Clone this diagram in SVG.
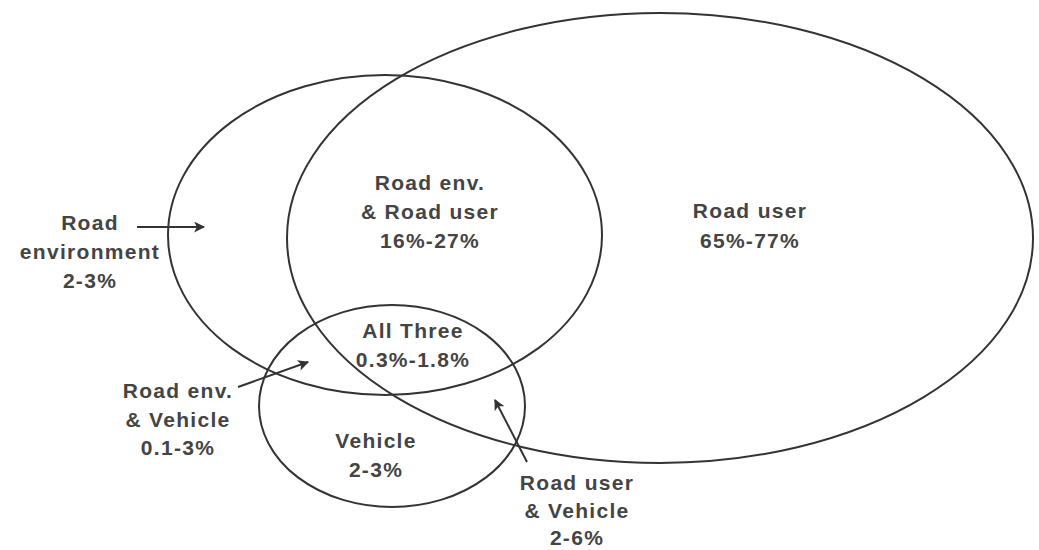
<svg xmlns="http://www.w3.org/2000/svg" width="1039" height="550" viewBox="0 0 1039 550">
<style>
.ring{fill:none;stroke:#333;stroke-width:2}
.lbl{font-family:"Liberation Sans",Arial,sans-serif;font-weight:bold;font-size:21px;fill:#444;text-anchor:middle;letter-spacing:1.3px}
.arr{fill:none;stroke:#333;stroke-width:2;marker-end:url(#ah)}
</style>
<defs>
<marker id="ah" viewBox="0 0 10 10" refX="9" refY="5" markerWidth="13" markerHeight="11" markerUnits="userSpaceOnUse" orient="auto">
<path d="M0,0 L10,5 L0,10 L2.5,5 Z" fill="#333"/>
</marker>
</defs>
<rect width="1039" height="550" fill="#fff"/>
<g id="road-user">
<ellipse class="ring" cx="660" cy="238" rx="373" ry="225"/>
<text class="lbl" x="750" y="218">Road user</text>
<text class="lbl" x="750" y="248">65%-77%</text>
</g>
<g id="road-environment">
<ellipse class="ring" cx="385" cy="235" rx="217" ry="160"/>
<text class="lbl" x="90" y="230">Road</text>
<text class="lbl" x="90" y="259">environment</text>
<text class="lbl" x="90" y="288">2-3%</text>
</g>
<g id="vehicle">
<ellipse class="ring" cx="392" cy="406" rx="133" ry="101"/>
<text class="lbl" x="376" y="448">Vehicle</text>
<text class="lbl" x="376" y="477">2-3%</text>
</g>
<g id="road-env-road-user">
<text class="lbl" x="430" y="190">Road env.</text>
<text class="lbl" x="430" y="219">&amp; Road user</text>
<text class="lbl" x="430" y="248">16%-27%</text>
</g>
<g id="all-three">
<text class="lbl" x="413" y="338">All Three</text>
<text class="lbl" x="413" y="367">0.3%-1.8%</text>
</g>
<g id="road-env-vehicle">
<text class="lbl" x="178" y="398">Road env.</text>
<text class="lbl" x="178" y="427">&amp; Vehicle</text>
<text class="lbl" x="178" y="455">0.1-3%</text>
</g>
<g id="road-user-vehicle">
<text class="lbl" x="577" y="490">Road user</text>
<text class="lbl" x="577" y="518">&amp; Vehicle</text>
<text class="lbl" x="577" y="545">2-6%</text>
</g>
<g id="connectors">
<line class="arr" x1="137" y1="227" x2="204" y2="227"/>
<line class="arr" x1="238" y1="387" x2="308" y2="362"/>
<line class="arr" x1="527" y1="462" x2="495" y2="400"/>
</g>
</svg>
